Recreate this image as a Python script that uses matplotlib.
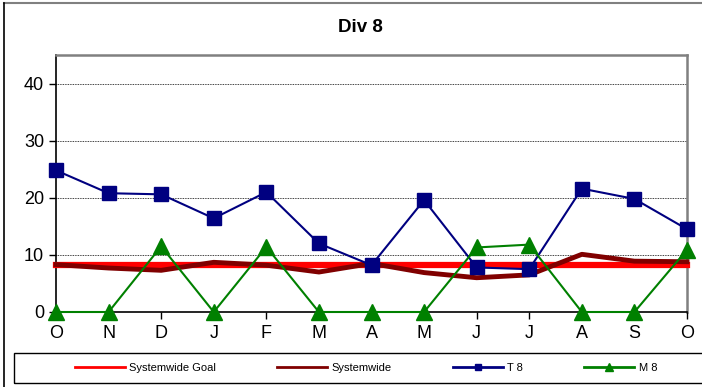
import matplotlib
matplotlib.use("Agg")
import matplotlib.pyplot as plt
import numpy as np
from matplotlib.patches import Rectangle
from matplotlib.lines import Line2D

plt.rcParams["font.family"] = ["Liberation Sans", "DejaVu Sans"]

months = ["O", "N", "D", "J", "F", "M", "A", "M", "J", "J", "A", "S", "O"]
goal = [8.2] * 13
systemwide = [8.3, 7.7, 7.3, 8.7, 8.2, 7.0, 8.5, 6.9, 6.0, 6.5, 10.1, 8.9, 8.8]
t8 = [24.8, 20.8, 20.6, 16.4, 21.0, 12.0, 8.2, 19.6, 7.8, 7.5, 21.6, 19.8, 14.5]
m8 = [0, 0, 11.5, 0, 11.4, 0, 0, 0, 11.3, 11.8, 0, 0, 10.9]
yticks = [0, 10, 20, 30, 40]

fig = plt.figure(figsize=(7.02, 3.87), dpi=100)
W, H = 702, 387
ax = fig.add_axes([56 / W, 1 - 312 / H, (687 - 56) / W, (312 - 55) / H])

x = np.arange(len(months))
ax.plot(x, goal, color="#ff0000", lw=4.5, label="Systemwide Goal", zorder=2, clip_on=False)
ax.plot(x, systemwide, color="#800000", lw=3.5, label="Systemwide", zorder=3, clip_on=False)
ax.plot(x, t8, color="#000080", lw=1.5, marker="s", ms=10, label="T 8", zorder=4, clip_on=False)
ax.plot(x, m8, color="#008000", lw=1.5, marker="^", ms=11, label="M 8", zorder=5, clip_on=False)

ax.set_xlim(0, 12)
ax.set_ylim(0, 45)
ax.set_yticks(yticks)
ax.set_xticks(x)
ax.set_xticklabels(months)
ax.tick_params(axis="both", labelsize=13, direction="out", length=5, width=1, color="black")
ax.tick_params(axis="x", pad=4)
for yv in yticks[1:]:
    ax.axhline(yv, color="black", lw=0.6, ls=(0, (1, 1)), zorder=1)
ax.spines["left"].set_color("black")
ax.spines["bottom"].set_color("black")
ax.spines["top"].set_color("#808080")
ax.spines["right"].set_color("#808080")
ax.spines["top"].set_linewidth(1.8)
ax.spines["right"].set_linewidth(1.8)
ax.spines["left"].set_linewidth(1.2)
ax.spines["bottom"].set_linewidth(1.2)
for s in ax.spines.values():
    s.set_zorder(1.5)

fig.text(360 / W, 1 - 28 / H, "Div 8", ha="center", va="center", fontsize=13.5, fontweight="bold")

# outer frame (top and left edges visible)
fig.add_artist(Line2D([4 / W, 1.0], [1 - 3 / H, 1 - 3 / H], transform=fig.transFigure,
                      color="#808080", lw=1.5))
fig.add_artist(Line2D([4 / W, 4 / W], [1 - 3 / H, 0.0], transform=fig.transFigure,
                      color="black", lw=1.2))
# legend frame
fig.patches.append(Rectangle((14 / W, 1 - 383 / H), (710 - 14) / W, (383 - 353) / H,
                             transform=fig.transFigure, fill=False, edgecolor="black", lw=1))

leg = fig.legend(loc="center", bbox_to_anchor=(366 / W, 1 - 368 / H),
                 ncol=4, fontsize=8, frameon=False, markerscale=0.5, handlelength=4.5,
                 handletextpad=0.4, columnspacing=5.5, borderaxespad=0, borderpad=0)
for line in leg.get_lines():
    line.set_linewidth(2)

fig.savefig("out.png", dpi=100)
